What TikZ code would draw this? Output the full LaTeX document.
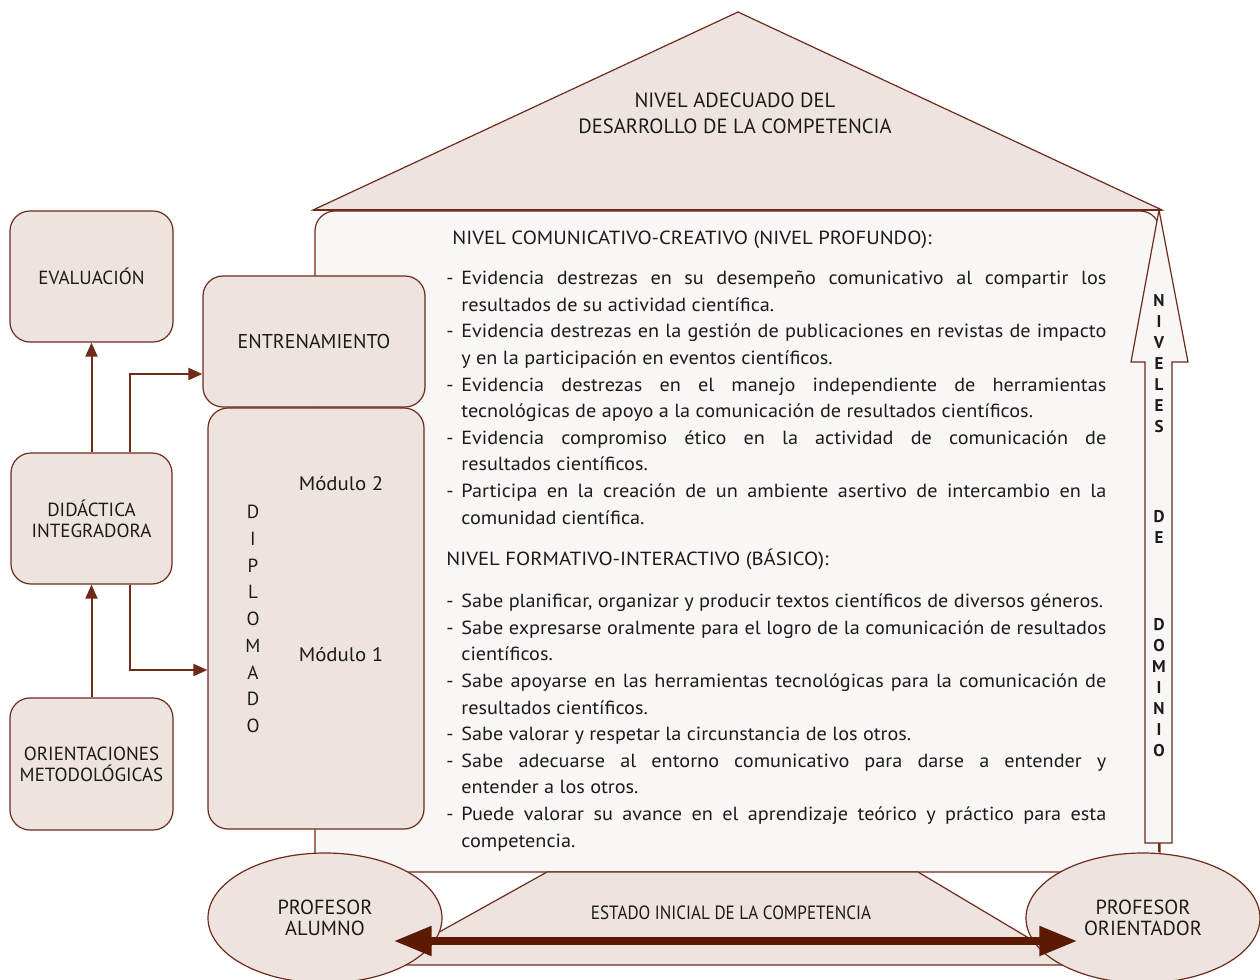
\documentclass[tikz,border=0pt]{standalone}
\usepackage{fontspec}
\setmainfont{PT Sans}
\newfontfamily\condfont[FakeStretch=0.89]{PT Sans}
\newfontfamily\bodyfont[FakeStretch=1.065]{PT Sans}
\newfontfamily\hdrfont[FakeStretch=1.09]{PT Sans}
\usetikzlibrary{arrows.meta,shapes.geometric}
\definecolor{brd}{HTML}{6E2B1A}
\definecolor{fa}{HTML}{EDE4E0}
\definecolor{fb}{HTML}{F8F7F6}
\definecolor{arc}{HTML}{5C1A05}
\definecolor{txc}{HTML}{1E1A1B}
\newcommand\bul[1]{\par\noindent\hangindent=7.5pt\hangafter=1\makebox[7.5pt][l]{-}#1\par}
\begin{document}
\begin{tikzpicture}[x=0.5pt,y=-0.5pt,
  font=\fontsize{9.5}{10.5}\selectfont, text=txc,
  box/.style={draw=brd, fill=fa, rounded corners=10pt, line width=0.6pt, inner sep=0pt, align=center},
  conn/.style={draw=brd, line width=1pt, -{Triangle[length=7pt,width=6pt]}},
  oval/.style={draw=brd, fill=fa, ellipse, line width=0.6pt, inner sep=0pt, minimum width=117pt, minimum height=65pt, align=center, font=\fontsize{10.2}{10.5}\selectfont},
]
\useasboundingbox (0,0) rectangle (1260,980);

% main content box
\node[draw=brd, fill=fb, rounded corners=10pt, line width=0.6pt, minimum width=422.5pt, minimum height=330.5pt, inner sep=0pt] (main) at (737.5,541.5) {};

% roof
\draw[brd, fill=fa, line width=0.6pt] (313,210) -- (738,12) -- (1162,210) -- cycle;
\draw[brd, line width=1.2pt] (313,210) -- (1162,210);
\node[align=center, font=\fontsize{10.3}{13}\selectfont] (roof) at (735,113) {NIVEL ADECUADO DEL\\DESARROLLO DE LA COMPETENCIA};

% base trapezoid
\draw[brd, fill=fa, line width=0.6pt] (547,872) -- (918,872) -- (1074,965) -- (380,965) -- cycle;
\node[font=\condfont\fontsize{9.6}{10.5}\selectfont] (estado) at (731,913) {ESTADO INICIAL DE LA COMPETENCIA};

% left boxes
\node[box, minimum width=81.5pt, minimum height=65.5pt] (eval) at (91.5,276.5) {EVALUACIÓN};
\node[box, minimum width=111pt, minimum height=65.5pt, font=\fontsize{10}{10.5}\selectfont] (entr) at (314,341.5) {ENTRENAMIENTO};
\node[box, minimum width=80.5pt, minimum height=65.5pt] (dida) at (91.5,518.5) {DIDÁCTICA\\INTEGRADORA};
\node[box, minimum width=81.5pt, minimum height=66pt] (orie) at (91.5,764) {ORIENTACIONES\\METODOLÓGICAS};
\node[box, minimum width=108pt, minimum height=210.5pt] (dipl) at (316,618.5) {};
\node[align=center, font=\fontsize{9.5}{13.35}\selectfont] (diplt) at (253,619) {D\\I\\P\\L\\O\\M\\A\\D\\O};
\node[font=\bodyfont\fontsize{9.8}{10.5}\selectfont] (mod2) at (341,484) {Módulo 2};
\node[font=\bodyfont\fontsize{9.8}{10.5}\selectfont] (mod1) at (341,655) {Módulo 1};

% connectors
\draw[conn] (dida.north) -- (eval.south);
\draw[conn] (orie.north) -- (dida.south);
\draw[conn] ([xshift=19.25pt]dida.north) |- ([yshift=-16.25pt]entr.west);
\draw[conn] ([xshift=19.25pt]dida.south) |- ([yshift=-25.75pt]dipl.west);

% main text
\node[anchor=north west, text width=330pt, inner sep=0pt, align=justify, font=\bodyfont\fontsize{9.5}{13.3}\selectfont] (txt) at (446,231) {%
\hyphenpenalty=10000\exhyphenpenalty=10000\parindent=0pt
\hspace*{3pt}{\hdrfont NIVEL COMUNICATIVO-CREATIVO (NIVEL PROFUNDO):}\par\vspace{6.6pt}
\bul{Evidencia destrezas en su desempeño comunicativo al compartir los\linebreak resultados de su actividad científica.}
\bul{Evidencia destrezas en la gestión de publicaciones en revistas de impacto\linebreak y en la participación en eventos científicos.}
\bul{Evidencia destrezas en el manejo independiente de herramientas\linebreak tecnológicas de apoyo a la comunicación de resultados científicos.}
\bul{Evidencia compromiso ético en la actividad de comunicación de\linebreak resultados científicos.}
\bul{Participa en la creación de un ambiente asertivo de intercambio en la\linebreak comunidad científica.}
\vspace{7.6pt}
{\hdrfont NIVEL FORMATIVO-INTERACTIVO (BÁSICO):}\par\vspace{7.6pt}
\bul{Sabe planificar, organizar y producir textos científicos de diversos géneros.}
\bul{Sabe expresarse oralmente para el logro de la comunicación de resultados\linebreak científicos.}
\bul{Sabe apoyarse en las herramientas tecnológicas para la comunicación de\linebreak resultados científicos.}
\bul{Sabe valorar y respetar la circunstancia de los otros.}
\bul{Sabe adecuarse al entorno comunicativo para darse a entender y\linebreak entender a los otros.}
\bul{Puede valorar su avance en el aprendizaje teórico y práctico para esta\linebreak competencia.}
};

% vertical arrow
\draw[brd, fill=fb, line width=0.6pt] (1145,843) -- (1145,362) -- (1131,362) -- (1159,210) -- (1188,362) -- (1172,362) -- (1172,843) -- cycle;
\coordinate (ub) at (1159,843);
\node[align=center, font=\bfseries\fontsize{8.5}{10.5}\selectfont] (niv1) at (1159,364) {N\\I\\V\\E\\L\\E\\S};
\node[align=center, font=\bfseries\fontsize{8.5}{10.5}\selectfont] (niv2) at (1159,527) {D\\E};
\node[align=center, font=\bfseries\fontsize{8.5}{10.5}\selectfont] (niv3) at (1159,688) {D\\O\\M\\I\\N\\I\\O};

% ellipses
\node[oval] (alum) at (325,918) {PROFESOR\\ALUMNO};
\node[oval] (orie2) at (1143,918) {PROFESOR\\ORIENTADOR};
\draw[brd, line width=0.6pt] (ub) -- (ub |- orie2.north);

% double arrow
\draw[arc, line width=4pt, {Triangle[length=19pt,width=14pt]}-{Triangle[length=19pt,width=14pt]}] ([shift={(-24.5pt,-11.5pt)}]alum.east) -- ([shift={(26pt,-11.5pt)}]orie2.west);
\end{tikzpicture}
\end{document}
